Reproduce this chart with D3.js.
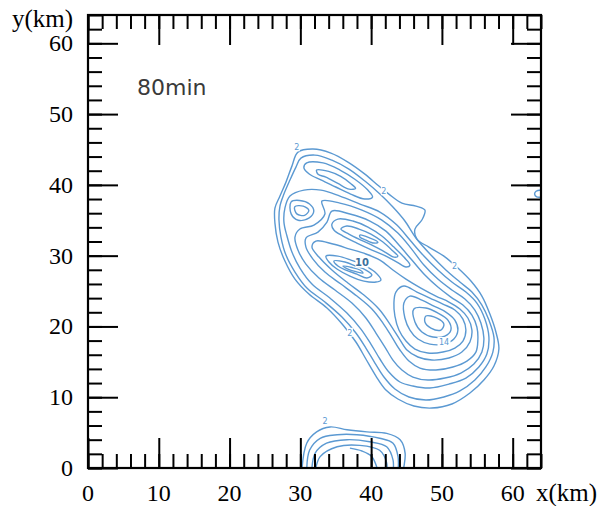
<!DOCTYPE html>
<html>
<head>
<meta charset="utf-8">
<script src="https://cdn.jsdelivr.net/npm/d3@7/dist/d3.min.js"></script>
<style>
  body { margin: 0; background: #fff; }
  svg { display: block; }
</style>
</head>
<body>
<svg id="chart" width="611" height="506"></svg>
<script>
// axis settings
var xTickLabels = [0, 10, 20, 30, 40, 50, 60];
var yTickLabels = [0, 10, 20, 30, 40, 50, 60];
var minorTicks = d3.range(0, 65, 2);
var timeLabel = "80min";

// contour rings (x km, y km)
var ringA = [[44.35,37.43],[46.33,37.00],[47.60,36.44],[47.17,35.03],[46.19,33.76],[46.47,32.34],[48.16,31.21],[50.28,29.94],[52.26,28.25],[54.10,26.41],[55.65,24.29],[56.78,21.75],[57.63,19.21],[58.05,16.81],[57.35,14.41],[55.93,12.43],[53.96,10.59],[51.41,9.04],[48.59,8.47],[46.04,8.76],[43.78,9.75],[42.09,11.02],[40.68,12.99],[39.26,15.40],[37.85,17.80],[36.02,20.20],[33.76,22.60],[31.21,24.58],[29.24,26.69],[27.82,29.24],[26.84,31.92],[26.41,34.60],[26.41,36.72],[27.12,38.42],[27.97,40.39],[28.81,42.65],[29.66,44.63],[31.78,45.06],[34.32,44.49],[36.72,43.22],[39.12,41.52],[41.10,39.83],[42.51,38.70]];
var ringB = [[30.08,43.78],[32.06,44.21],[34.46,43.50],[36.86,42.23],[39.12,40.54],[41.24,38.70],[43.08,36.86],[44.77,34.89],[46.33,32.49],[48.45,30.08],[50.56,27.97],[52.54,26.27],[54.24,24.86],[55.65,23.02],[56.64,20.90],[57.35,18.50],[57.20,16.38],[56.21,14.27],[54.66,12.43],[52.54,10.88],[50.28,10.03],[47.74,9.60],[45.34,10.03],[43.36,11.16],[41.81,12.85],[40.54,14.83],[39.26,16.95],[37.85,19.07],[35.88,21.33],[33.47,23.45],[30.93,25.42],[29.24,27.68],[27.97,30.08],[27.26,32.63],[26.98,35.03],[27.12,37.00],[27.68,38.70],[28.53,40.68],[29.38,42.51]];
var ringT1 = [[30.9,43.1],[33.2,43.1],[35.6,42.1],[37.7,40.8],[39.5,39.3],[40.2,38.3],[39.1,38.0],[37.1,38.7],[35.0,39.7],[32.9,40.7],[31.3,41.5],[30.5,42.4]];
var ringT2 = [[32.3,42.1],[34.0,41.9],[35.7,41.2],[37.1,40.2],[37.8,39.5],[36.9,39.4],[35.3,40.2],[33.6,41.1],[32.5,41.5]];
var ringC = [[28.53,38.42],[30.51,39.26],[32.91,39.26],[35.59,38.42],[38.42,37.29],[41.24,36.16],[43.64,34.32],[45.48,32.20],[47.46,29.94],[49.43,27.97],[51.41,26.27],[53.39,24.86],[54.94,23.30],[56.07,21.04],[56.64,18.50],[56.35,16.10],[55.22,14.27],[53.39,12.71],[50.99,11.86],[48.30,11.30],[45.90,11.58],[44.07,12.15],[42.51,13.56],[41.24,15.40],[39.97,17.51],[38.56,19.63],[36.58,21.89],[34.18,24.01],[31.64,25.99],[29.94,28.25],[28.81,30.51],[28.11,32.77],[27.68,34.74],[27.82,36.72]];
var ringW1 = [[28.7,37.6],[29.9,37.8],[31.3,37.3],[31.9,36.3],[31.2,35.3],[29.7,35.0],[28.7,35.9]];
var ringW2 = [[29.2,36.9],[30.4,37.0],[31.2,36.4],[30.6,35.7],[29.5,35.9]];
var ringD = [[33.05,37.71],[35.59,37.43],[38.70,36.44],[41.52,35.03],[43.78,33.19],[45.62,31.07],[47.46,28.67],[49.43,26.69],[51.41,25.14],[53.25,23.87],[54.66,22.32],[55.51,20.48],[55.93,18.36],[55.65,16.38],[54.52,14.69],[52.68,13.42],[50.42,12.71],[48.02,12.43],[45.90,12.85],[44.35,13.84],[43.08,15.25],[41.95,17.09],[40.68,19.07],[39.26,21.19],[37.29,23.30],[34.89,25.14],[32.63,26.84],[30.79,28.81],[29.66,30.79],[29.24,32.63],[29.94,33.76],[31.92,34.32],[33.47,35.88]];
var ringE = [[34.46,36.30],[37.00,35.88],[39.83,34.89],[42.09,33.47],[43.93,31.50],[45.76,29.38],[47.60,27.26],[49.43,25.56],[51.27,24.15],[52.97,23.02],[54.24,21.61],[54.94,19.92],[55.08,18.08],[54.80,16.38],[53.53,15.11],[51.55,14.27],[49.15,13.84],[46.89,14.12],[45.34,15.11],[44.07,16.67],[42.94,18.50],[41.67,20.48],[40.11,22.46],[37.99,24.29],[35.73,25.99],[33.47,27.68],[31.78,29.52],[30.79,31.21],[30.79,32.49],[32.49,33.33],[33.76,34.74]];
var ringU1 = [[35.31,35.17],[37.43,34.89],[39.55,34.04],[41.52,32.77],[43.22,31.21],[44.63,29.80],[45.48,28.67],[44.92,28.39],[43.64,29.10],[42.09,29.94],[40.11,30.79],[37.99,31.78],[36.02,32.77],[34.74,33.62],[34.46,34.46]];
var ringU2 = [[36.58,34.18],[38.28,33.76],[39.97,33.05],[41.67,31.92],[43.08,30.65],[43.78,29.94],[43.22,29.80],[41.95,30.51],[40.39,31.36],[38.56,32.20],[36.86,33.05],[35.73,33.76]];
var ringU3 = [[38.42,32.91],[39.83,32.49],[40.96,31.92],[40.39,31.78],[39.26,32.20],[38.42,32.63]];
var ringS1 = [[32.20,32.06],[34.60,31.64],[37.00,30.93],[39.26,30.23],[41.24,29.38],[43.08,27.97],[44.92,26.69],[47.03,25.42],[49.15,24.29],[50.99,23.45],[52.54,22.46],[53.67,21.19],[54.24,19.49],[53.96,17.80],[52.82,16.38],[50.99,15.54],[48.59,15.25],[46.61,15.68],[45.06,16.67],[43.93,18.36],[42.65,20.34],[41.10,22.46],[38.98,24.43],[36.72,26.13],[34.46,27.97],[32.63,29.80],[31.64,31.21]];
var ringL1 = [[33.62,29.94],[35.31,29.94],[37.15,29.38],[38.98,28.67],[40.54,27.68],[41.38,26.55],[40.68,26.27],[38.98,26.41],[37.00,27.12],[35.17,28.11],[34.04,29.10]];
var ringL2 = [[34.74,29.24],[36.30,29.10],[37.85,28.53],[39.26,27.97],[40.11,27.26],[39.40,26.84],[37.99,27.40],[36.44,27.97],[35.31,28.53]];
var ringL3 = [[36.02,28.53],[37.29,28.32],[38.42,27.97],[38.84,27.54],[37.85,27.75],[36.72,28.11]];
var ringS2 = [[43.50,24.86],[44.63,25.71],[46.47,24.86],[48.30,24.01],[50.14,23.16],[51.83,22.32],[52.97,21.04],[53.39,19.49],[52.97,17.94],[51.83,16.95],[50.14,16.38],[48.02,16.24],[46.19,16.81],[44.92,17.94],[43.93,19.49],[43.36,21.47],[43.22,23.30]];
var ringS3 = [[44.63,23.30],[45.48,24.29],[47.17,23.73],[48.87,22.88],[50.56,22.03],[51.83,20.90],[52.26,19.49],[51.69,18.22],[50.28,17.51],[48.30,17.51],[46.61,18.22],[45.48,19.49],[44.77,21.19]];
var ringS4 = [[46.04,22.46],[47.74,22.60],[49.43,21.89],[50.85,20.90],[51.27,19.49],[50.42,18.64],[48.73,18.50],[47.17,19.21],[46.19,20.62]];
var ringS5 = [[47.74,21.47],[49.29,21.19],[50.28,20.34],[49.86,19.49],[48.45,19.77],[47.60,20.62]];

// open contours cut by the frame
var cellK1 = [[30.2,-0.5],[30.9,3.5],[32.3,5.1],[34.2,5.8],[36.6,5.4],[39.4,5.1],[42.2,4.9],[44.1,4.0],[44.8,2.1],[44.5,-0.5]];
var cellK2 = [[30.9,-0.5],[31.3,2.5],[32.8,4.2],[35.2,4.7],[38.0,4.7],[41.2,4.2],[43.1,3.5],[43.8,1.6],[43.8,-0.5]];
var cellK3 = [[31.6,-0.5],[32.1,2.1],[33.7,3.5],[36.6,4.0],[39.8,3.7],[42.2,3.0],[43.1,1.1],[43.1,-0.5]];
var cellK4 = [[32.1,-0.5],[32.8,1.6],[35.2,3.0],[38.4,3.2],[41.2,2.5],[42.2,0.7],[42.2,-0.5]];
var cellK5 = [[37.0,2.8],[38.7,2.4],[40.1,1.6],[40.9,-0.2]];
var edgeR = [[64.3,39.3],[63.3,39.1],[63.1,38.7],[63.4,38.3],[64.3,38.3]];

var closedRings = [ringA, ringB, ringT1, ringT2, ringC, ringW1, ringW2, ringD, ringE,
  ringU1, ringU2, ringU3, ringS1, ringL1, ringL2, ringL3,
  ringS2, ringS3, ringS4, ringS5];
var openLines = [cellK1, cellK2, cellK3, cellK4, cellK5, edgeR];

var contourLabels = [
  {x: 29.5, y: 45.3, t: "2"},
  {x: 41.8, y: 39.1, t: "2"},
  {x: 51.8, y: 28.5, t: "2"},
  {x: 37.0, y: 19.1, t: "2"},
  {x: 33.5, y: 6.6, t: "2"},
  {x: 38.7, y: 29.0, t: "10"},
  {x: 50.3, y: 17.8, t: "14"}
];

var svg = d3.select("#chart");
var x = d3.scaleLinear().domain([0, 64]).range([88, 541]);
var y = d3.scaleLinear().domain([0, 64]).range([468, 15]);
var blue = "#5b99d2";
var serif = "'Liberation Serif', 'Times New Roman', serif";

svg.append("clipPath").attr("id", "plotclip")
  .append("rect")
  .attr("x", x(0)).attr("y", y(64))
  .attr("width", x(64) - x(0)).attr("height", y(0) - y(64));

var plot = svg.append("g").attr("clip-path", "url(#plotclip)");

var ringLine = d3.line()
  .x(function(d) { return x(d[0]); })
  .y(function(d) { return y(d[1]); })
  .curve(d3.curveCatmullRomClosed.alpha(0.5));
var openLine = d3.line()
  .x(function(d) { return x(d[0]); })
  .y(function(d) { return y(d[1]); })
  .curve(d3.curveCatmullRom.alpha(0.5));

plot.selectAll(".ring").data(closedRings).enter()
  .append("path")
  .attr("class", "ring")
  .attr("d", ringLine)
  .attr("fill", "none")
  .attr("stroke", blue)
  .attr("stroke-width", 1.4);

plot.selectAll(".open").data(openLines).enter()
  .append("path")
  .attr("class", "open")
  .attr("d", openLine)
  .attr("fill", "none")
  .attr("stroke", blue)
  .attr("stroke-width", 1.4);

// contour labels
contourLabels.forEach(function(l) {
  var big = l.t.length > 1;
  var fs = l.t == "10" ? 10 : 8;
  var w = big ? 13 : 6;
  plot.append("rect")
    .attr("x", x(l.x) - w / 2)
    .attr("y", y(l.y) - fs / 2 - 1)
    .attr("width", w)
    .attr("height", fs + 1)
    .attr("fill", "white");
  plot.append("text")
    .attr("x", x(l.x))
    .attr("y", y(l.y))
    .attr("dy", "0.35em")
    .attr("text-anchor", "middle")
    .attr("font-family", "DejaVu Sans, sans-serif")
    .attr("font-size", fs)
    .attr("font-weight", l.t == "10" ? "bold" : "normal")
    .attr("fill", l.t == "10" ? "#3d6f9c" : blue)
    .text(l.t);
});

// frame ticks, all pointing inwards
function tickSet(axisFn, scale, values, size) {
  return axisFn(scale).tickValues(values).tickSize(size).tickFormat("");
}
var sides = [
  {fn: d3.axisBottom, sc: x, tr: "translate(0," + y(0) + ")"},
  {fn: d3.axisTop, sc: x, tr: "translate(0," + y(64) + ")"},
  {fn: d3.axisLeft, sc: y, tr: "translate(" + x(0) + ",0)"},
  {fn: d3.axisRight, sc: y, tr: "translate(" + x(64) + ",0)"}
];
sides.forEach(function(s) {
  var gMinor = svg.append("g").attr("transform", s.tr)
    .call(tickSet(s.fn, s.sc, minorTicks, -14));
  var gMajor = svg.append("g").attr("transform", s.tr)
    .call(tickSet(s.fn, s.sc, xTickLabels, -30));
  [gMinor, gMajor].forEach(function(g) {
    g.select(".domain").remove();
    g.selectAll(".tick line").attr("stroke", "black").attr("stroke-width", 2);
  });
});

svg.append("rect")
  .attr("x", x(0)).attr("y", y(64))
  .attr("width", x(64) - x(0)).attr("height", y(0) - y(64))
  .attr("fill", "none").attr("stroke", "black").attr("stroke-width", 2.2);

// tick labels
svg.selectAll(".xlab").data(xTickLabels).enter()
  .append("text")
  .attr("x", function(d) { return x(d); })
  .attr("y", 501)
  .attr("text-anchor", "middle")
  .attr("font-family", serif)
  .attr("font-size", 24)
  .text(function(d) { return d; });

svg.selectAll(".ylab").data(yTickLabels).enter()
  .append("text")
  .attr("x", 73)
  .attr("y", function(d) { return y(d); })
  .attr("dy", "0.33em")
  .attr("text-anchor", "end")
  .attr("font-family", serif)
  .attr("font-size", 24)
  .text(function(d) { return d; });

svg.append("text")
  .attr("x", 12).attr("y", 27)
  .attr("font-family", serif)
  .attr("font-size", 25)
  .text("y(km)");

svg.append("text")
  .attr("x", 536).attr("y", 501)
  .attr("font-family", serif)
  .attr("font-size", 25)
  .text("x(km)");

svg.append("text")
  .attr("x", 137).attr("y", 95)
  .attr("font-family", "DejaVu Sans, sans-serif")
  .attr("font-size", 22)
  .attr("fill", "#3a3a3a")
  .text(timeLabel);
</script>
</body>
</html>
